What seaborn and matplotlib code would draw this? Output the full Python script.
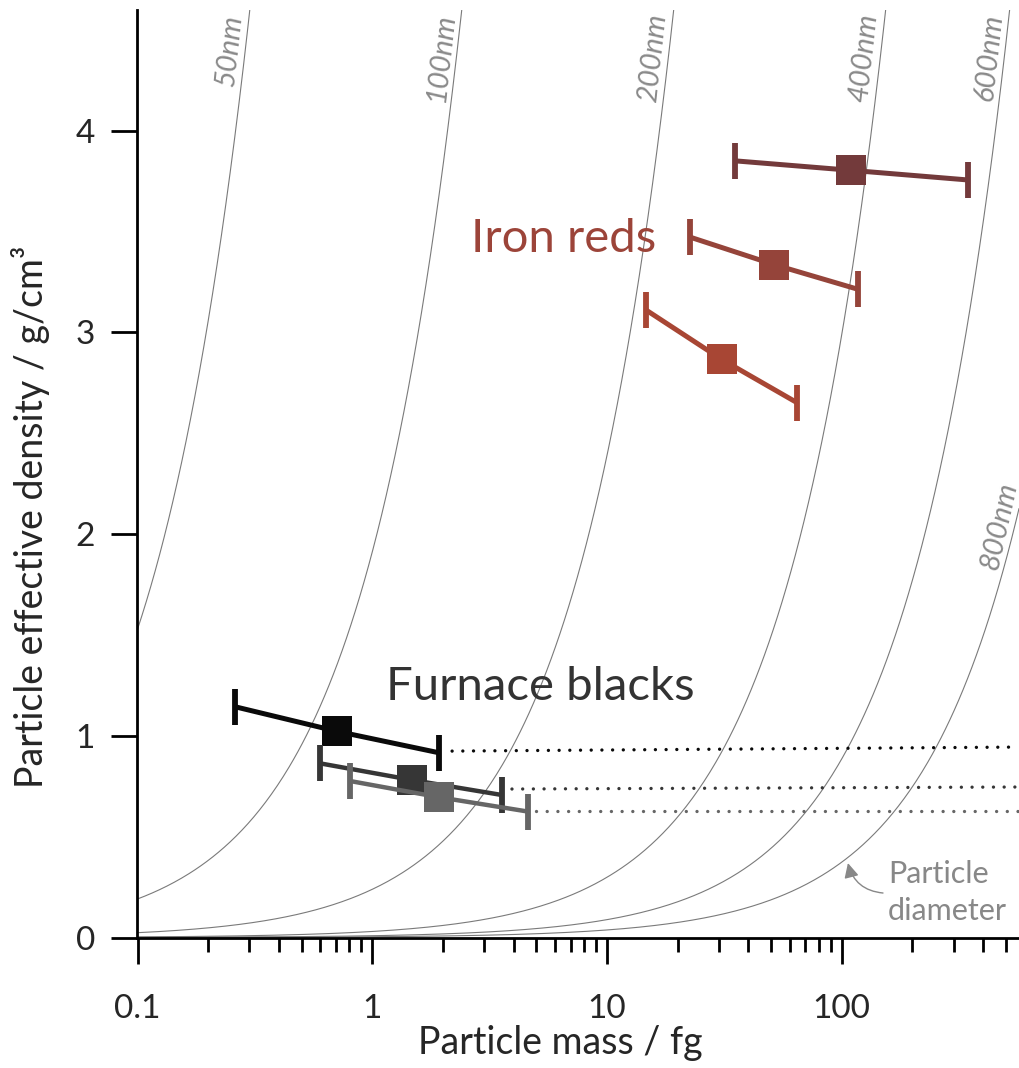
import numpy as np
import pandas as pd
import matplotlib
matplotlib.use("Agg")
import matplotlib.pyplot as plt
import matplotlib.transforms as mtransforms
import seaborn as sns
from matplotlib.ticker import LogLocator, FixedLocator, NullFormatter, FixedFormatter

# ---------------- data ----------------
diameters_nm = [50, 100, 200, 400, 600, 800]
diameter_labels = ["50nm", "100nm", "200nm", "400nm", "600nm", "800nm"]
label_anchor_density = [4.57, 4.57, 4.57, 4.57, 4.57, 2.24]

iron_mass = [109.3, 51.7, 30.8]
iron_mass_lo = [35.0, 22.7, 14.7]
iron_mass_hi = [345.7, 117.5, 64.6]
iron_dens = [3.803, 3.335, 2.866]
iron_dens_at_lo = [3.850, 3.471, 3.110]
iron_dens_at_hi = [3.755, 3.213, 2.651]
iron_colors = ["#733a3b", "#95443a", "#a84634"]

black_mass = [0.708, 1.473, 1.932]
black_mass_lo = [0.260, 0.601, 0.802]
black_mass_hi = [1.920, 3.584, 4.625]
black_dens = [1.022, 0.781, 0.695]
black_dens_at_lo = [1.144, 0.863, 0.776]
black_dens_at_hi = [0.916, 0.706, 0.624]
black_colors = ["#0a0a0a", "#363636", "#666666"]

dotted_mass_start = [2.19, 3.94, 4.99]
dotted_dens_start = [0.924, 0.736, 0.627]
dotted_dens_end = [0.944, 0.746, 0.627]

x_ticks = [0.1, 1, 10, 100]
x_tick_labels = ["0.1", "1", "10", "100"]
y_ticks = [0, 1, 2, 3, 4]
XLIM = (0.1, 570)
YLIM = (0, 4.6)

# ---------------- style ----------------
sns.set_style("ticks")
plt.rcParams["font.family"] = ["Lato", "DejaVu Sans"]

fig = plt.figure(figsize=(10.2, 10.68), dpi=100)
ax = fig.add_axes([137.5 / 1020, 1 - 937.5 / 1068, 881.5 / 1020, 928 / 1068])
ax.set_xscale("log")
ax.set_xlim(*XLIM)
ax.set_ylim(*YLIM)

# ---------------- constant-diameter curves ----------------
masses = np.logspace(np.log10(XLIM[0]), np.log10(XLIM[1]), 600)
rows = []
for d in diameters_nm:
    vol = np.pi / 6 * d ** 3 / 1e6  # mass(fg) per density(g/cm3)
    for m in masses:
        rows.append({"mass": m, "density": m / vol, "diameter": d})
curves = pd.DataFrame(rows)
sns.lineplot(data=curves, x="mass", y="density", units="diameter", estimator=None,
             color="#7a7a7a", lw=0.8, sort=False, legend=False, ax=ax, zorder=1)

fig.canvas.draw()
for d, lab, yd in zip(diameters_nm, diameter_labels, label_anchor_density):
    vol = np.pi / 6 * d ** 3 / 1e6
    m = yd * vol
    p1 = ax.transData.transform((m, yd))
    p2 = ax.transData.transform((m * 1.02, yd * 1.02))
    ang = np.degrees(np.arctan2(p2[1] - p1[1], p2[0] - p1[0]))
    tr = mtransforms.offset_copy(ax.transData, fig=fig, x=-2, y=0, units="points")
    ax.text(m, yd, lab, rotation=ang, rotation_mode="anchor", ha="right", va="bottom",
            fontsize=21, fontstyle="italic", color="#8a8a8a", transform=tr, zorder=2)

# ---------------- dotted continuation lines ----------------
for xs, y0, y1, c in zip(dotted_mass_start, dotted_dens_start, dotted_dens_end, black_colors):
    ax.plot([xs, XLIM[1]], [y0, y1], color=c, lw=2.4, linestyle=(0, (0.01, 3.2)),
            dash_capstyle="round", zorder=3, clip_on=False)

# ---------------- error bars + squares ----------------
def draw_series(mass, lo, hi, dens, dlo, dhi, colors, lws):
    for i in range(len(mass)):
        ax.plot([lo[i], mass[i], hi[i]], [dlo[i], dens[i], dhi[i]], color=colors[i],
                lw=lws[i], marker="|", markevery=[0, 2], ms=26, mew=4.2,
                solid_capstyle="butt", zorder=4 + i)
        sns.scatterplot(x=[mass[i]], y=[dens[i]], marker="s", s=22 ** 2, color=colors[i],
                        linewidth=0, legend=False, ax=ax, zorder=4 + i)

draw_series(iron_mass, iron_mass_lo, iron_mass_hi, iron_dens, iron_dens_at_lo,
            iron_dens_at_hi, iron_colors, [3.6, 3.6, 3.6])
draw_series(black_mass, black_mass_lo, black_mass_hi, black_dens, black_dens_at_lo,
            black_dens_at_hi, black_colors, [3.6, 3.2, 3.2])

# ---------------- annotations ----------------
ax.text(2.64, 3.40, "Iron reds", fontsize=34, color="#9c4439", ha="left", va="baseline")
ax.text(1.145, 1.177, "Furnace blacks", fontsize=34, color="#333333", ha="left", va="baseline")
ax.text(157.6, 0.270, "Particle", fontsize=22, color="#888888", ha="left", va="baseline")
ax.text(157.6, 0.087, "diameter", fontsize=22, color="#888888", ha="left", va="baseline")
ax.annotate("", xy=(106.4, 0.369), xytext=(150.1, 0.2205),
            arrowprops=dict(arrowstyle="-|>", color="#888888", lw=1.0,
                            connectionstyle="arc3,rad=-0.35", mutation_scale=22,
                            shrinkA=0, shrinkB=0))

# ---------------- axes ----------------
sns.despine(ax=ax)
for s in ["left", "bottom"]:
    ax.spines[s].set_linewidth(2.0)
    ax.spines[s].set_color("black")
ax.xaxis.set_major_locator(FixedLocator(x_ticks))
ax.xaxis.set_major_formatter(FixedFormatter(x_tick_labels))
ax.xaxis.set_minor_locator(LogLocator(base=10, subs=np.arange(2, 10)))
ax.xaxis.set_minor_formatter(NullFormatter())
ax.yaxis.set_major_locator(FixedLocator(y_ticks))
ax.tick_params(axis="x", which="major", direction="out", length=18.5, width=2.0,
               labelsize=24, pad=22, color="black")
ax.tick_params(axis="x", which="minor", direction="out", length=10, width=2.0, color="black")
ax.tick_params(axis="y", which="major", direction="out", length=18.5, width=2.0,
               labelsize=24, pad=12, color="black")
ax.set_xlabel("Particle mass / fg", fontsize=27)
ax.set_ylabel("Particle effective density / g/cm³", fontsize=27)
ax.xaxis.label.set_va("baseline")
ax.xaxis.set_label_coords(0.48, -0.1255)
ax.yaxis.set_label_coords(-0.099, 0.453)
ax.set_facecolor("white")

fig.savefig("out.png", dpi=100, facecolor="white")
